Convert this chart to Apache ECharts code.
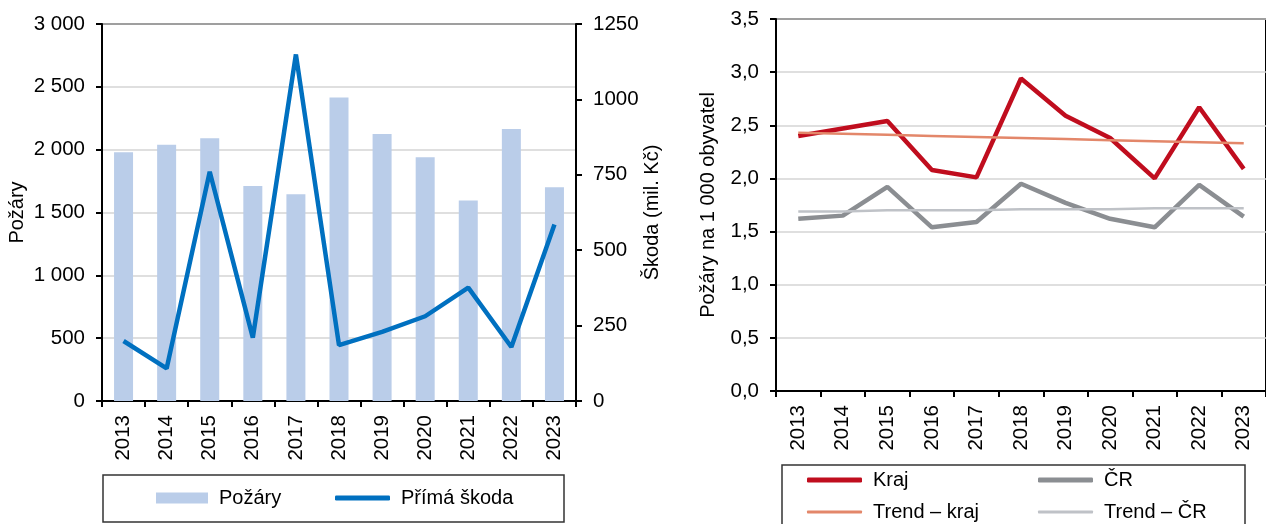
<!DOCTYPE html>
<html>
<head>
<meta charset="utf-8">
<script src="https://cdn.jsdelivr.net/npm/echarts@6/dist/echarts.min.js"></script>
<style>
  html, body { margin: 0; padding: 0; background: #fff; }
  #chart { width: 1266px; height: 524px; }
</style>
</head>
<body>
<div id="chart"></div>
<script>
const years = ['2013', '2014', '2015', '2016', '2017', '2018', '2019', '2020', '2021', '2022', '2023'];
// left chart: number of fires (bars) and direct damage in mil. Kč (line)
const pozary = [1980, 2040, 2090, 1710, 1645, 2415, 2125, 1940, 1595, 2165, 1700];
const skoda = [199, 108, 760, 210, 1149, 185, 229, 281, 376, 179, 585];
// right chart: fires per 1 000 inhabitants
const kraj = [2.40, 2.47, 2.54, 2.08, 2.01, 2.94, 2.59, 2.38, 2.00, 2.67, 2.09];
const cr = [1.62, 1.65, 1.92, 1.54, 1.59, 1.95, 1.77, 1.62, 1.54, 1.94, 1.64];
const trendKraj = [2.43, 2.42, 2.41, 2.40, 2.39, 2.38, 2.37, 2.36, 2.35, 2.34, 2.33];
const trendCr = [1.69, 1.69, 1.70, 1.70, 1.70, 1.71, 1.71, 1.71, 1.72, 1.72, 1.72];

const font = 'Liberation Sans, Arial, sans-serif';
const black = '#000';
const gridColor = '#d4d4d4';
const fs = 20.5;

function thousands(v) {
  return String(v).replace(/\B(?=(\d{3})+(?!\d))/g, ' ');
}
function comma(v) {
  return v.toFixed(1).replace('.', ',');
}

const xAxisBase = {
  type: 'category',
  data: years,
  axisLine: { lineStyle: { color: black, width: 2 } },
  axisTick: { show: true, length: 6, lineStyle: { color: black, width: 2 } },
  axisLabel: { rotate: 90, color: black, fontSize: fs, fontFamily: font, margin: 14 }
};

const legendText = { color: black, fontSize: 20, fontFamily: font, padding: [0, 0, 0, 6] };

const option = {
  animation: false,
  grid: [
    { left: 102, top: 24, width: 474, height: 377, show: true, borderColor: black, borderWidth: 2 },
    { left: 776, top: 19, width: 501, height: 372, show: true, borderColor: black, borderWidth: 2 }
  ],
  xAxis: [
    Object.assign({ gridIndex: 0 }, xAxisBase),
    Object.assign({ gridIndex: 1 }, xAxisBase)
  ],
  yAxis: [
    {
      gridIndex: 0, type: 'value', min: 0, max: 3000, interval: 500,
      name: 'Požáry', nameLocation: 'middle', nameRotate: 90, nameGap: 75,
      nameTextStyle: { color: black, fontSize: 20, fontFamily: font },
      axisLine: { show: true, lineStyle: { color: black, width: 2 } },
      axisTick: { show: true, length: 6, lineStyle: { color: black, width: 2 } },
      axisLabel: { color: black, fontSize: fs, fontFamily: font, margin: 17, formatter: thousands },
      splitLine: { lineStyle: { color: gridColor, width: 1.5 } }
    },
    {
      gridIndex: 0, type: 'value', position: 'right', min: 0, max: 1250, interval: 250,
      name: 'Škoda (mil. Kč)', nameLocation: 'middle', nameRotate: 90, nameGap: 65,
      nameTextStyle: { color: black, fontSize: 20, fontFamily: font },
      axisLine: { show: true, lineStyle: { color: black, width: 2 } },
      axisTick: { show: true, length: 6, lineStyle: { color: black, width: 2 } },
      axisLabel: { color: black, fontSize: fs, fontFamily: font, margin: 17, formatter: function (v) { return String(v); } },
      splitLine: { show: false }
    },
    {
      gridIndex: 1, type: 'value', min: 0, max: 3.5, interval: 0.5,
      name: 'Požáry na 1 000 obyvatel', nameLocation: 'middle', nameRotate: 90, nameGap: 58,
      nameTextStyle: { color: black, fontSize: 20, fontFamily: font },
      axisLine: { show: true, lineStyle: { color: black, width: 2 } },
      axisTick: { show: true, length: 6, lineStyle: { color: black, width: 2 } },
      axisLabel: { color: black, fontSize: fs, fontFamily: font, margin: 17, formatter: comma },
      splitLine: { lineStyle: { color: gridColor, width: 1.5 } }
    }
  ],
  legend: [
    { data: ['Požáry'], left: 156, top: 488, padding: 0, icon: 'rect', itemWidth: 52, itemHeight: 11, textStyle: legendText },
    { data: ['Přímá škoda'], left: 335, top: 488, padding: 0, icon: 'roundRect', itemWidth: 55, itemHeight: 5, textStyle: legendText },
    { data: ['Kraj'], left: 807, top: 470, padding: 0, icon: 'roundRect', itemWidth: 55, itemHeight: 5, textStyle: legendText },
    { data: ['ČR'], left: 1038, top: 470, padding: 0, icon: 'roundRect', itemWidth: 55, itemHeight: 5, textStyle: legendText },
    { data: ['Trend – kraj'], left: 807, top: 502, padding: 0, icon: 'roundRect', itemWidth: 55, itemHeight: 3, textStyle: legendText },
    { data: ['Trend – ČR'], left: 1038, top: 502, padding: 0, icon: 'roundRect', itemWidth: 55, itemHeight: 3, textStyle: legendText }
  ],
  graphic: [
    { type: 'rect', shape: { x: 103, y: 475, width: 461, height: 47 }, style: { fill: 'none', stroke: '#333', lineWidth: 1.5 } },
    { type: 'rect', shape: { x: 782, y: 465, width: 463, height: 70 }, style: { fill: 'none', stroke: '#333', lineWidth: 1.5 } }
  ],
  series: [
    {
      name: 'Požáry', type: 'bar', xAxisIndex: 0, yAxisIndex: 0,
      barWidth: 19, itemStyle: { color: '#bacde9' }, data: pozary
    },
    {
      name: 'Přímá škoda', type: 'line', xAxisIndex: 0, yAxisIndex: 1,
      symbol: 'none', lineStyle: { color: '#0070c0', width: 4.5 }, itemStyle: { color: '#0070c0' }, data: skoda
    },
    {
      name: 'Kraj', type: 'line', xAxisIndex: 1, yAxisIndex: 2,
      symbol: 'none', lineStyle: { color: '#c00d1e', width: 4.5 }, itemStyle: { color: '#c00d1e' }, data: kraj
    },
    {
      name: 'ČR', type: 'line', xAxisIndex: 1, yAxisIndex: 2,
      symbol: 'none', lineStyle: { color: '#8b8e92', width: 4.5 }, itemStyle: { color: '#8b8e92' }, data: cr
    },
    {
      name: 'Trend – kraj', type: 'line', xAxisIndex: 1, yAxisIndex: 2,
      symbol: 'none', lineStyle: { color: '#e3876a', width: 2.5 }, itemStyle: { color: '#e3876a' }, data: trendKraj
    },
    {
      name: 'Trend – ČR', type: 'line', xAxisIndex: 1, yAxisIndex: 2,
      symbol: 'none', lineStyle: { color: '#bfc2c7', width: 2.5 }, itemStyle: { color: '#bfc2c7' }, data: trendCr
    }
  ]
};

const myChart = echarts.init(document.getElementById('chart'));
myChart.setOption(option);
window.addEventListener('resize', function () {
  myChart.resize();
});
</script>
</body>
</html>
